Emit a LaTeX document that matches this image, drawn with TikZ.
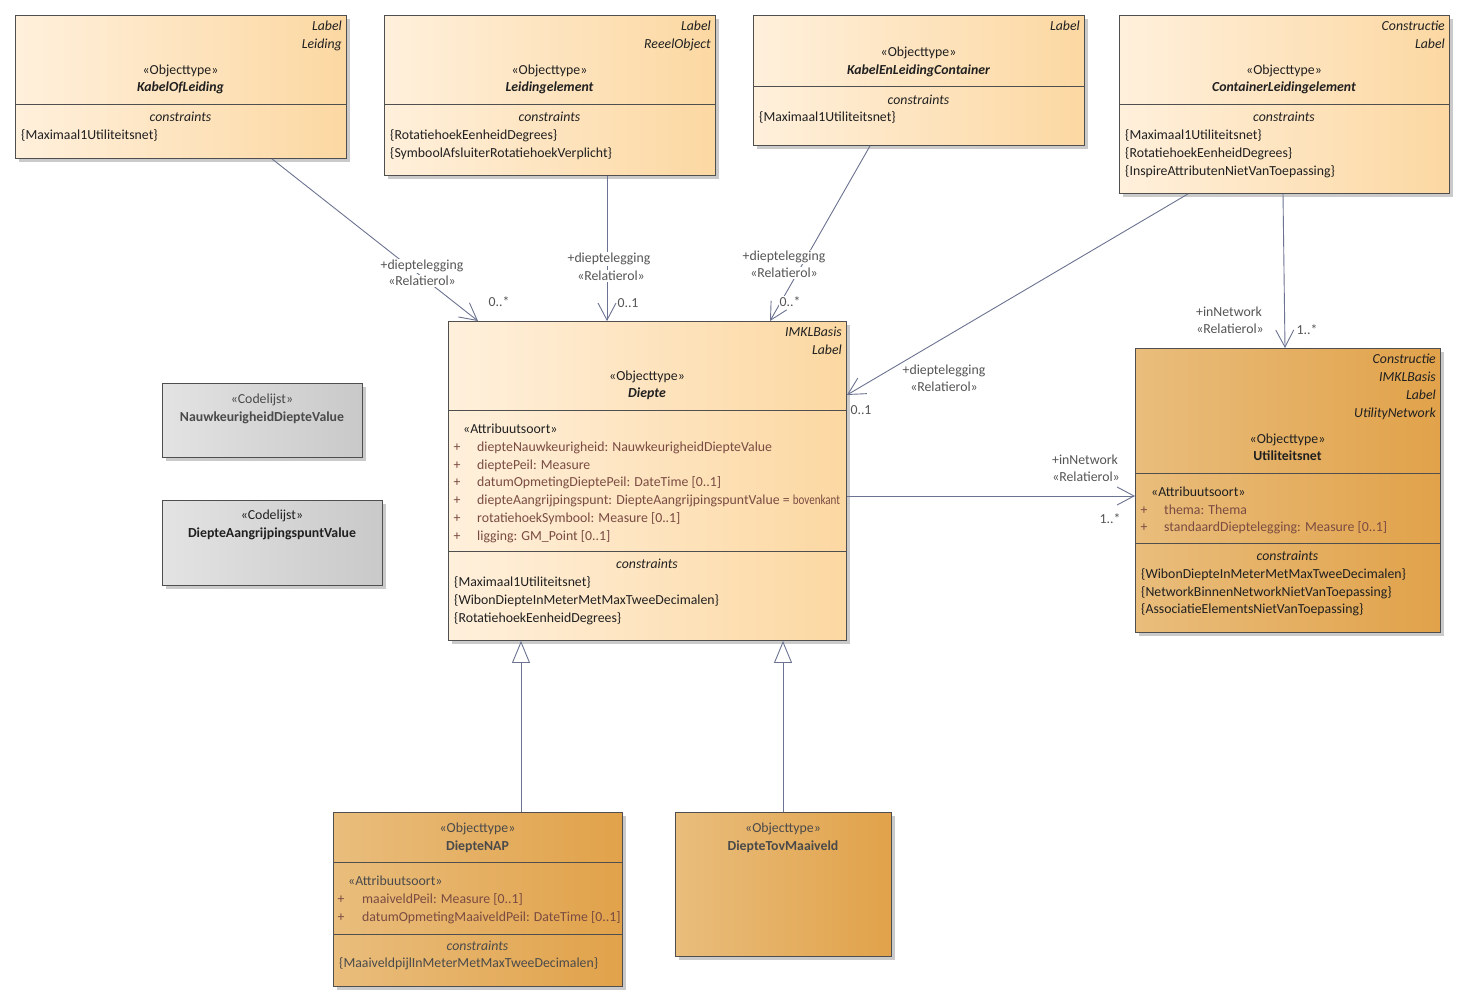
\documentclass[tikz,border=0pt]{standalone}
\usepackage{fontspec}
\setmainfont{Carlito}
\usetikzlibrary{shadows,arrows.meta}
\newcommand\dfs{\fontsize{13.8}{16}\selectfont}
\definecolor{lightL}{HTML}{FFF0DC}
\definecolor{lightR}{HTML}{FCD8A2}
\definecolor{darkL}{HTML}{E9BD7C}
\definecolor{darkR}{HTML}{E1A24A}
\definecolor{grayL}{HTML}{E3E3E3}
\definecolor{grayR}{HTML}{C9C9C9}
\definecolor{bordc}{HTML}{4F4F4F}
\definecolor{shadc}{HTML}{CACACA}
\definecolor{linec}{HTML}{6B7390}
\definecolor{labc}{HTML}{555555}
\definecolor{attrc}{HTML}{7A4B42}
\definecolor{txtc}{HTML}{202020}
\definecolor{dimc}{HTML}{4A4A4A}
\tikzset{
  umlbox/.style={draw=bordc, line width=0.9pt, rectangle, inner sep=0pt, anchor=north west,
    drop shadow={shadow xshift=4pt, shadow yshift=-4pt, fill=shadc, opacity=1}},
  lightbox/.style={umlbox, left color=lightL, right color=lightR},
  darkbox/.style={umlbox, left color=darkL, right color=darkR},
  graybox/.style={umlbox, left color=grayL, right color=grayR},
  divider/.style={draw=bordc, line width=0.9pt},
  tx/.style={inner sep=0pt, font=\dfs, text=txtc, yshift=-4.5pt},
  ittxt/.style={font=\dfs\itshape},
  nmi/.style={font=\dfs\bfseries\itshape},
  nmb/.style={font=\dfs\bfseries},
  attrtxt/.style={text=attrc},
  dimtxt/.style={text=dimc},
  labtxt/.style={text=labc, fill=white, inner sep=1pt},
  conn/.style={draw=linec, line width=0.9pt},
  assoc/.style={conn, -{Straight Barb[length=17pt, width=18pt, line width=0.9pt]}},
  genl/.style={conn, -{Triangle[open, length=22pt, width=18pt, line width=0.9pt, fill=white]}}
}
\newcommand\txC[5][]{\node[tx, anchor=base, #1] (#2) at (#3,#4) {#5};}
\newcommand\txL[5][]{\node[tx, anchor=base west, #1] (#2) at (#3,#4) {#5};}
\newcommand\txR[5][]{\node[tx, anchor=base east, #1] (#2) at (#3,#4) {#5};}
\begin{document}
\begin{tikzpicture}[x=1pt, y=-1pt]
\useasboundingbox (0,0) rectangle (1467,1003);
\fill[white] (0,0) rectangle (1467,1003);

% ---------- KabelOfLeiding
\node[lightbox, minimum width=331pt, minimum height=143pt] (kol) at (15,15) {};
\draw[divider] (15,104) -- (346,104);
\txR[ittxt]{kolA}{342}{26}{Label}
\txR[ittxt]{kolB}{342}{44}{Leiding}
\txC{kolS}{180.5}{70}{«Objecttype»}
\txC[nmi]{kolN}{180.5}{87}{KabelOfLeiding}
\txC[ittxt]{kolC}{180.5}{117}{constraints}
\txL{kolC1}{21}{135}{\{Maximaal1Utiliteitsnet\}}

% ---------- Leidingelement
\node[lightbox, minimum width=331pt, minimum height=160pt] (le) at (384,15) {};
\draw[divider] (384,104) -- (715,104);
\txR[ittxt]{leA}{711}{26}{Label}
\txR[ittxt]{leB}{711}{44}{ReeelObject}
\txC{leS}{549.5}{70}{«Objecttype»}
\txC[nmi]{leN}{549.5}{87}{Leidingelement}
\txC[ittxt]{leC}{549.5}{117}{constraints}
\txL{leC1}{390}{135}{\{RotatiehoekEenheidDegrees\}}
\txL{leC2}{390}{153}{\{SymboolAfsluiterRotatiehoekVerplicht\}}

% ---------- KabelEnLeidingContainer
\node[lightbox, minimum width=331pt, minimum height=130pt] (klc) at (753,15) {};
\draw[divider] (753,86) -- (1084,86);
\txR[ittxt]{klcA}{1080}{26}{Label}
\txC{klcS}{918.5}{52}{«Objecttype»}
\txC[nmi]{klcN}{918.5}{70}{KabelEnLeidingContainer}
\txC[ittxt]{klcC}{918.5}{100}{constraints}
\txL{klcC1}{759}{117}{\{Maximaal1Utiliteitsnet\}}

% ---------- ContainerLeidingelement
\node[lightbox, minimum width=330pt, minimum height=178pt] (cle) at (1119,15) {};
\draw[divider] (1119,104) -- (1449,104);
\txR[ittxt]{cleA}{1445}{26}{Constructie}
\txR[ittxt]{cleB}{1445}{44}{Label}
\txC{cleS}{1284}{70}{«Objecttype»}
\txC[nmi]{cleN}{1284}{87}{ContainerLeidingelement}
\txC[ittxt]{cleC}{1284}{117}{constraints}
\txL{cleC1}{1125}{135}{\{Maximaal1Utiliteitsnet\}}
\txL{cleC2}{1125}{153}{\{RotatiehoekEenheidDegrees\}}
\txL{cleC3}{1125}{171}{\{InspireAttributenNietVanToepassing\}}

% ---------- Diepte
\node[lightbox, minimum width=398pt, minimum height=319pt] (dp) at (448,321) {};
\draw[divider] (448,410) -- (846,410);
\draw[divider] (448,551) -- (846,551);
\txR[ittxt]{dpA}{842}{332}{IMKLBasis}
\txR[ittxt]{dpB}{842}{350}{Label}
\txC{dpS}{647}{376}{«Objecttype»}
\txC[nmi]{dpN}{647}{393}{Diepte}
\txL{dpAS}{463}{429}{«Attribuutsoort»}
\txC[attrtxt]{dpP1}{457}{447}{+}
\txC[attrtxt]{dpP2}{457}{465}{+}
\txC[attrtxt]{dpP3}{457}{482}{+}
\txC[attrtxt]{dpP4}{457}{500}{+}
\txC[attrtxt]{dpP5}{457}{518}{+}
\txC[attrtxt]{dpP6}{457}{536}{+}
\txL[attrtxt]{dpT1}{477}{447}{diepteNauwkeurigheid: NauwkeurigheidDiepteValue}
\txL[attrtxt]{dpT2}{477}{465}{dieptePeil: Measure}
\txL[attrtxt]{dpT3}{477}{482}{datumOpmetingDieptePeil: DateTime [0..1]}
\txL[attrtxt]{dpT4}{477}{500}{diepteAangrijpingspunt: DiepteAangrijpingspuntValue = \scalebox{0.8}[1]{bovenkant}}
\txL[attrtxt]{dpT5}{477}{518}{rotatiehoekSymbool: Measure [0..1]}
\txL[attrtxt]{dpT6}{477}{536}{ligging: GM\_Point [0..1]}
\txC[ittxt]{dpC}{647}{564}{constraints}
\txL{dpC1}{454}{582}{\{Maximaal1Utiliteitsnet\}}
\txL{dpC2}{454}{600}{\{WibonDiepteInMeterMetMaxTweeDecimalen\}}
\txL{dpC3}{454}{618}{\{RotatiehoekEenheidDegrees\}}

% ---------- Utiliteitsnet
\node[darkbox, minimum width=305pt, minimum height=284pt] (un) at (1135,348) {};
\draw[divider] (1135,473) -- (1440,473);
\draw[divider] (1135,543) -- (1440,543);
\txR[ittxt]{unA}{1436}{359}{Constructie}
\txR[ittxt]{unB}{1436}{377}{IMKLBasis}
\txR[ittxt]{unC}{1436}{395}{Label}
\txR[ittxt]{unD}{1436}{413}{UtilityNetwork}
\txC{unS}{1287.5}{439}{«Objecttype»}
\txC[nmb]{unN}{1287.5}{456}{Utiliteitsnet}
\txL{unAS}{1151}{492}{«Attribuutsoort»}
\txC[attrtxt]{unP1}{1144}{510}{+}
\txC[attrtxt]{unP2}{1144}{527}{+}
\txL[attrtxt]{unT1}{1164}{510}{thema: Thema}
\txL[attrtxt]{unT2}{1164}{527}{standaardDieptelegging: Measure [0..1]}
\txC[ittxt]{unCo}{1287.5}{556}{constraints}
\txL{unC1}{1141}{574}{\{WibonDiepteInMeterMetMaxTweeDecimalen\}}
\txL{unC2}{1141}{592}{\{NetworkBinnenNetworkNietVanToepassing\}}
\txL{unC3}{1141}{609}{\{AssociatieElementsNietVanToepassing\}}

% ---------- Codelijsten
\node[graybox, minimum width=200pt, minimum height=74pt] (cl1) at (162,383) {};
\txC[dimtxt]{cl1S}{262}{399}{«Codelijst»}
\txC[nmb,dimtxt]{cl1N}{262}{417}{NauwkeurigheidDiepteValue}
\node[graybox, minimum width=220pt, minimum height=85pt] (cl2) at (162,500) {};
\txC{cl2S}{272}{515}{«Codelijst»}
\txC[nmb]{cl2N}{272}{533}{DiepteAangrijpingspuntValue}

% ---------- DiepteNAP
\node[darkbox, minimum width=289pt, minimum height=174pt] (nap) at (333,812) {};
\draw[divider] (333,862) -- (622,862);
\draw[divider] (333,934) -- (622,934);
\txC[dimtxt]{napS}{477.5}{828}{«Objecttype»}
\txC[nmb,dimtxt]{napN}{477.5}{846}{DiepteNAP}
\txL[dimtxt]{napAS}{348}{881}{«Attribuutsoort»}
\txC[attrtxt]{napP1}{341}{899}{+}
\txC[attrtxt]{napP2}{341}{917}{+}
\txL[attrtxt]{napT1}{362}{899}{maaiveldPeil: Measure [0..1]}
\txL[attrtxt]{napT2}{362}{917}{datumOpmetingMaaiveldPeil: DateTime [0..1]}
\txC[ittxt,dimtxt]{napC}{477.5}{946}{constraints}
\txL[dimtxt]{napC1}{339}{963}{\{MaaiveldpijlInMeterMetMaxTweeDecimalen\}}

% ---------- DiepteTovMaaiveld
\node[darkbox, minimum width=216pt, minimum height=144pt] (tov) at (675,812) {};
\txC[dimtxt]{tovS}{783}{828}{«Objecttype»}
\txC[nmb,dimtxt]{tovN}{783}{846}{DiepteTovMaaiveld}

% ---------- connectors
\draw[assoc] (272,0 |- kol.south) -- (478,0 |- dp.north);
\txC[labtxt]{aL1}{422}{265}{+dieptelegging}
\txC[labtxt]{aL2}{422}{281}{«Relatierol»}
\txC[labtxt]{aM}{499}{302}{0..*}

\draw[assoc] (607,0 |- le.south) -- (607,0 |- dp.north);
\txC[labtxt]{bL1}{609}{258}{+dieptelegging}
\txC[labtxt]{bL2}{611}{276}{«Relatierol»}
\txC[labtxt]{bM}{628}{303}{0..1}

\draw[assoc] (870,0 |- klc.south) -- (770,0 |- dp.north);
\txC[labtxt]{cL1}{784}{256}{+dieptelegging}
\txC[labtxt]{cL2}{784}{273}{«Relatierol»}
\txC[labtxt]{cM}{790}{302}{0..*}

\draw[assoc] (1188,0 |- cle.south) -- (dp.east |- 0,395);
\txC[labtxt]{dL1}{944}{370}{+dieptelegging}
\txC[labtxt]{dL2}{944}{387}{«Relatierol»}
\txC[labtxt]{dM}{861}{410}{0..1}

\draw[assoc] (1283,0 |- cle.south) -- (1285,0 |- un.north);
\txC[labtxt]{eL1}{1229}{312}{+inNetwork}
\txC[labtxt]{eL2}{1230}{329}{«Relatierol»}
\txC[labtxt]{eM}{1307}{330}{1..*}

\draw[assoc] (dp.east |- 0,496) -- (un.west |- 0,496);
\txC[labtxt]{fL1}{1085}{460}{+inNetwork}
\txC[labtxt]{fL2}{1086}{477}{«Relatierol»}
\txC[labtxt]{fM}{1110}{519}{1..*}

\draw[genl] (521,0 |- nap.north) -- (521,0 |- dp.south);
\draw[genl] (783,0 |- tov.north) -- (783,0 |- dp.south);
\end{tikzpicture}
\end{document}
